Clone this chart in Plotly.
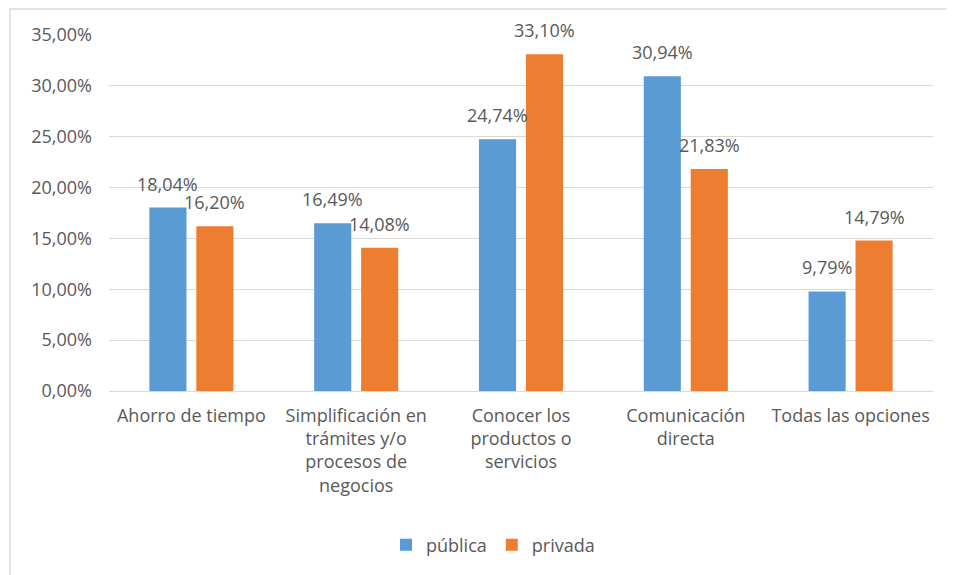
import plotly.graph_objects as go

categories = ["Ahorro de tiempo",
              "Simplificación en<br>trámites y/o<br>procesos de<br>negocios",
              "Conocer los<br>productos o<br>servicios",
              "Comunicación<br>directa",
              "Todas las opciones"]
publica = [18.04, 16.49, 24.74, 30.94, 9.79]
privada = [16.20, 14.08, 33.10, 21.83, 14.79]
y_ticks = [0, 5, 10, 15, 20, 25, 30, 35]
y_tick_labels = ["0,00%", "5,00%", "10,00%", "15,00%", "20,00%", "25,00%", "30,00%", "35,00%"]

FONT = "Open Sans"
GRAY = "#595959"
BLUE = "#5B9BD5"
ORANGE = "#ED7D31"
FS = 18

def fmt(v):
    return f"{v:.2f}".replace(".", ",") + "%"

fig = go.Figure()
fig.add_trace(go.Bar(name="pública", x=categories, y=publica, marker_color=BLUE,
                     marker_line_width=0))
fig.add_trace(go.Bar(name="privada", x=categories, y=privada, marker_color=ORANGE,
                     marker_line_width=0))

annotations = []
for series, shift in ((publica, -23.5), (privada, 23.5)):
    for c, v in zip(categories, series):
        annotations.append(dict(x=c, y=v, xref="x", yref="y", text=fmt(v),
                                showarrow=False, xshift=shift, yshift=10,
                                yanchor="bottom", xanchor="center",
                                font=dict(family=FONT, size=FS, color=GRAY)))

OFF = 8  # page body margin
W, H = 954 - OFF, 575 - OFF
# plot area in page pixels: x 109..933, y 35..391
L = 109 - OFF
R = W - (933 - OFF)
T = 35 - OFF
B = H - (391 - OFF)
pw, ph = W - L - R, H - T - B

def px2x(px):
    return (px - 109) / pw

def py2y(py):
    return (391 - py) / ph

fig.update_layout(
    width=W, height=H,
    margin=dict(l=L, r=R, t=T, b=B, pad=0),
    paper_bgcolor="white", plot_bgcolor="white",
    barmode="group", bargap=0.43, bargroupgap=0.21,
    font=dict(family=FONT, size=FS, color=GRAY),
    showlegend=True,
    legend=dict(orientation="h", x=px2x(493), xanchor="center",
                y=py2y(545), yanchor="middle",
                font=dict(family=FONT, size=FS, color=GRAY),
                itemwidth=30, traceorder="normal"),
    annotations=annotations,
    shapes=[dict(type="rect", xref="paper", yref="paper",
                 x0=px2x(10), x1=px2x(990), y0=py2y(600), y1=py2y(9),
                 line=dict(color="#D9D9D9", width=1.5), layer="below")],
    xaxis=dict(showgrid=False, showline=True, linecolor="#D9D9D9", linewidth=1,
               ticks="", tickfont=dict(family=FONT, size=FS, color=GRAY),
               ticklabelstandoff=8, tickangle=0, fixedrange=True),
    yaxis=dict(range=[0, 35], tickvals=y_ticks, ticktext=y_tick_labels,
               showgrid=True, gridcolor="#D9D9D9", gridwidth=1,
               zeroline=False, showline=False, ticks="",
               ticklabelstandoff=16,
               tickfont=dict(family=FONT, size=FS, color=GRAY), fixedrange=True),
)

fig.write_html("out.html")
